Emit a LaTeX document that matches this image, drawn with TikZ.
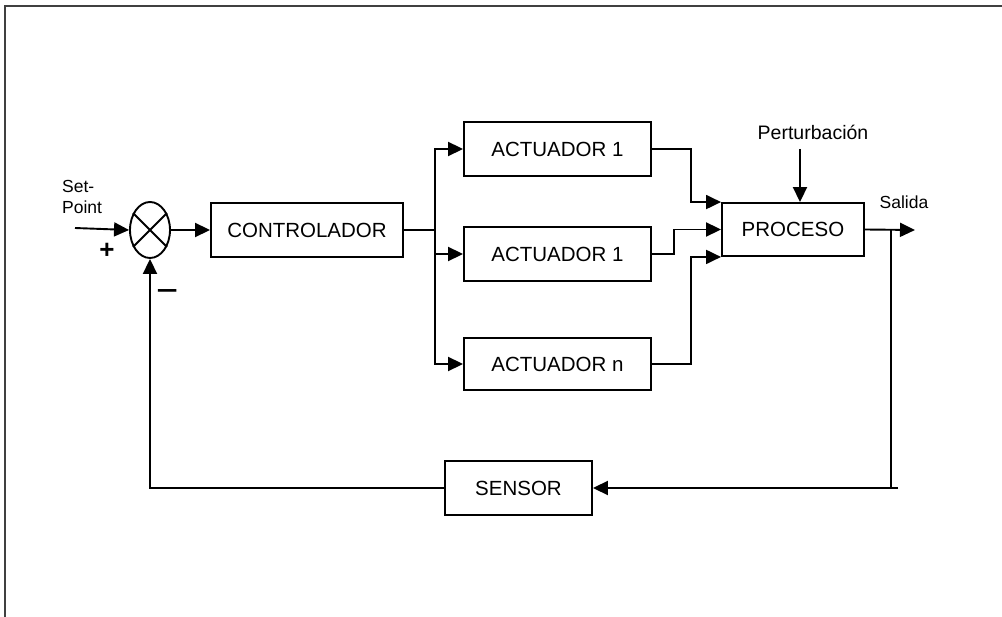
\documentclass[tikz,border=0pt]{standalone}
\usepackage{fontspec}
\setmainfont{Liberation Sans}
\usetikzlibrary{arrows.meta,shapes.geometric,calc}
\tikzset{
  blk/.style={draw, line width=1.9pt, inner sep=0pt, font=\fontsize{20.5}{22}\selectfont},
  wire/.style={line width=1.9pt},
  arr/.style={wire, -{Triangle[length=15pt,width=14pt]}},
  lbl/.style={inner sep=0pt, font=\fontsize{17.5}{21}\selectfont},
}
\begin{document}
\begin{tikzpicture}[x=1pt,y=-1pt]
\useasboundingbox (0,0) rectangle (1002,617);
% frame
\draw[line width=1.6pt, black!75] (5,617) -- (5,6) -- (1002,6);

% nodes
\node[draw, ellipse, line width=1.9pt, minimum width=40pt, minimum height=56pt, inner sep=0pt] (sum) at (150,230) {};
\draw[line width=1.9pt] (sum.45) -- (sum.225) (sum.135) -- (sum.315);
\node[blk, minimum width=192pt, minimum height=54pt] (ctrl) at (307,230) {CONTROLADOR};
\node[blk, minimum width=187pt, minimum height=54pt] (a1) at (557.5,149) {ACTUADOR 1};
\node[blk, minimum width=187pt, minimum height=54pt] (a2) at (557.5,254) {ACTUADOR 1};
\node[blk, minimum width=187pt, minimum height=52pt] (an) at (557.5,364) {ACTUADOR n};
\node[blk, minimum width=142pt, minimum height=53pt] (proc) at (793,229.5) {PROCESO};
\node[blk, minimum width=147pt, minimum height=54pt] (sensor) at (518.5,488) {SENSOR};

% labels
\node[lbl, anchor=west, align=left] (sp) at (62,197) {Set-\\Point};
\node[inner sep=0pt, font=\fontsize{26}{28}\selectfont\bfseries] (plus) at (107,251) {+};
\node[inner sep=0pt, font=\fontsize{38}{40}\selectfont] (minus) at (168,297) {−};
\node[inner sep=0pt, font=\fontsize{19.5}{22}\selectfont] (pert) at (813,132) {Perturbación};
\node[lbl] (sal) at (904,202) {Salida};

% coordinates
\coordinate (in) at (75,228);
\coordinate (split) at (435,230);
\coordinate (pin) at (800,149);
\coordinate (out) at (915,230);
\coordinate (fb) at (891,230);
\coordinate (fbend) at (898,488);

% connectors
\draw[arr] (in) -- (sum.west);
\draw[arr] (sum.east) -- (ctrl.west);
\draw[wire] (ctrl.east) -- (split);
\draw[arr] (split) |- (a1.west);
\draw[arr] (split) |- (a2.west);
\draw[arr] (split) |- (an.west);
\draw[arr] (a1.east) -- ++(39,0) |- (proc.north west);
\draw[arr] (a2.east) -- ++(22,0) |- (proc.west);
\draw[arr] (an.east) -- ++(39,0) |- (proc.south west);
\draw[arr] (pin) -- (pin |- proc.north);
\draw[arr] (proc.east) -- (out);
\draw[wire] (fb) -- (fb |- fbend) -- (fbend);
\draw[arr] (fbend) -- (sensor.east);
\draw[arr] (sensor.west) -| (sum.south);
\end{tikzpicture}
\end{document}
